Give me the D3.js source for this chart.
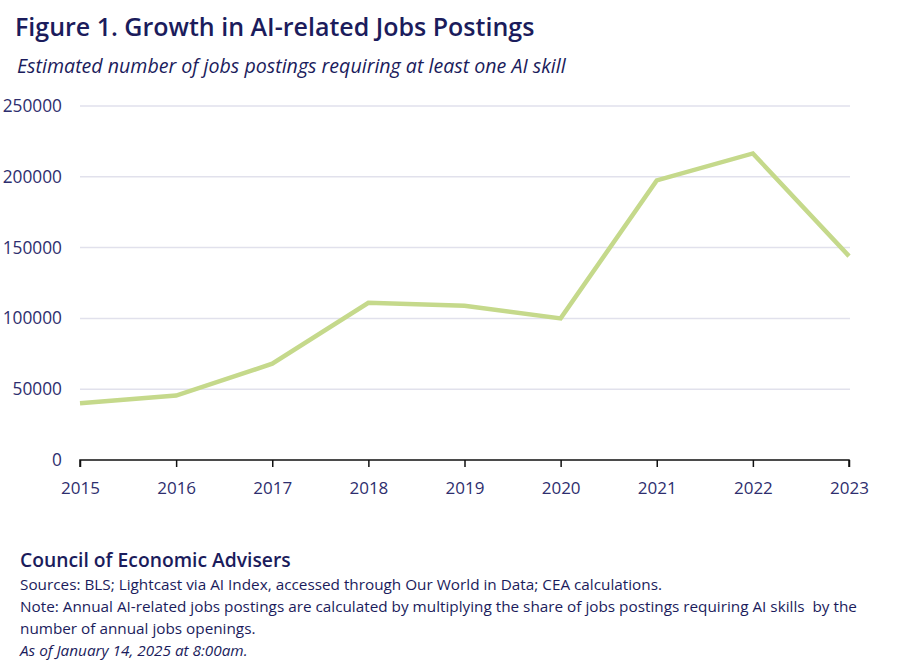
<!DOCTYPE html>
<html>
<head>
<meta charset="utf-8">
<script src="https://cdn.jsdelivr.net/npm/d3@7"></script>
<style>
  body { margin: 0; background: #fff; }
  svg text { font-family: "Open Sans", "Noto Sans", sans-serif; white-space: pre; }
</style>
</head>
<body>
<svg id="chart" width="900" height="661"></svg>
<script>
// data
var years = ["2015", "2016", "2017", "2018", "2019", "2020", "2021", "2022", "2023"];
var postings = [40000, 45500, 68000, 111000, 109000, 100000, 197500, 216500, 144000];
var yTicks = [0, 50000, 100000, 150000, 200000, 250000];

var navy = "#1b1c5c";
var svg = d3.select("#chart");

var x = d3.scalePoint().domain(years).range([80, 849]);
var y = d3.scaleLinear().domain([0, 250000]).range([460, 106]);

// title block
svg.append("text")
    .attr("x", 15).attr("y", 36)
    .attr("fill", navy)
    .style("font-size", "25px").style("font-weight", 600)
    .text("Figure 1. Growth in AI-related Jobs Postings");

svg.append("text")
    .attr("x", 17).attr("y", 73)
    .attr("fill", navy)
    .style("font-size", "19.6px").style("font-style", "italic")
    .text("Estimated number of jobs postings requiring at least one AI skill");

// gridlines
svg.append("g")
    .selectAll("line")
    .data(yTicks.slice(1))
    .enter().append("line")
    .attr("x1", 80).attr("x2", 850)
    .attr("y1", function(d) { return y(d); })
    .attr("y2", function(d) { return y(d); })
    .attr("stroke", "#e1e1ec")
    .attr("stroke-width", 1.5);

// y axis labels
var yAxis = svg.append("g")
    .attr("transform", "translate(62,0)")
    .call(d3.axisLeft(y).tickValues(yTicks).tickSize(0).tickFormat(function(d) { return d; }));
yAxis.select(".domain").remove();
yAxis.selectAll("text")
    .attr("x", 0)
    .attr("fill", "#2e2e6e")
    .style("font-size", "17.3px");

// x axis
var xAxis = svg.append("g")
    .attr("transform", "translate(0,460)")
    .call(d3.axisBottom(x).tickSizeOuter(7).tickSizeInner(7).tickPadding(15));
xAxis.select(".domain").attr("stroke", "#111").attr("stroke-width", 1.5)
    .attr("d", "M80,7V0H849V7");
xAxis.selectAll(".tick line").attr("stroke", "#111").attr("stroke-width", 1.5);
xAxis.selectAll("text")
    .attr("fill", "#2e2e6e")
    .style("font-size", "17px");

// series line
var line = d3.line()
    .x(function(d, i) { return x(years[i]); })
    .y(function(d) { return y(d); });

svg.append("path")
    .datum(postings)
    .attr("fill", "none")
    .attr("stroke", "#c5d98b")
    .attr("stroke-width", 4.5)
    .attr("stroke-linejoin", "miter")
    .attr("d", line);

// footer
svg.append("text")
    .attr("x", 20).attr("y", 567)
    .attr("fill", navy)
    .style("font-size", "19.3px").style("font-weight", 600)
    .text("Council of Economic Advisers");

var notes = [
  "Sources: BLS; Lightcast via AI Index, accessed through Our World in Data; CEA calculations.",
  "Note: Annual AI-related jobs postings are calculated by multiplying the share of jobs postings requiring AI skills  by the",
  "number of annual jobs openings."
];
svg.append("g").selectAll("text")
    .data(notes)
    .enter().append("text")
    .attr("x", 20)
    .attr("y", function(d, i) { return 590 + i * 22; })
    .attr("fill", navy)
    .style("font-size", "15.3px")
    .text(function(d) { return d; });

svg.append("text")
    .attr("x", 20).attr("y", 656)
    .attr("fill", navy)
    .style("font-size", "15.3px").style("font-style", "italic")
    .text("As of January 14, 2025 at 8:00am.");
</script>
</body>
</html>
